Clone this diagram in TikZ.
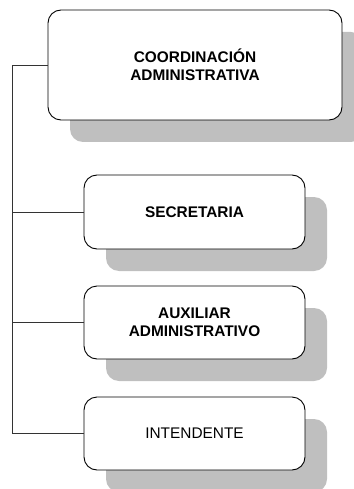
\documentclass[tikz,border=0pt]{standalone}
\usepackage{fontspec}
\setmainfont{Liberation Sans}
\usetikzlibrary{shadows}
\tikzset{
  puesto/.style={draw, fill=white, rounded corners=13pt, line width=0.9pt,
    align=center, font=\fontsize{15.4}{18}\selectfont,
    drop shadow={shadow xshift=22pt, shadow yshift=-22pt, fill=black!25, opacity=1}},
  enlace/.style={line width=0.8pt, black!80}
}
\begin{document}
\begin{tikzpicture}[x=1pt,y=-1pt]
\useasboundingbox (0,0) rectangle (353,489);
% Organigrama
\node[puesto, minimum width=294pt, minimum height=110pt, font=\fontsize{15.4}{18}\selectfont\bfseries] (coord) at (195,65) {COORDINACIÓN\\ADMINISTRATIVA};
\node[puesto, minimum width=221pt, minimum height=74pt, font=\fontsize{15.4}{18}\selectfont\bfseries] (secre) at (194.5,212) {SECRETARIA};
\node[puesto, minimum width=221pt, minimum height=73pt, font=\fontsize{15.4}{18}\selectfont\bfseries] (auxil) at (194.5,322.5) {AUXILIAR\\ADMINISTRATIVO};
\node[puesto, minimum width=221pt, minimum height=73pt] (inten) at (194.5,433.5) {INTENDENTE};

% Lineas de dependencia
\coordinate (eje) at (12,0);
\draw[enlace] (coord.west) -- (coord.west -| eje) |- (inten.west);
\draw[enlace] (secre.west -| eje) -- (secre.west);
\draw[enlace] (auxil.west -| eje) -- (auxil.west);
\end{tikzpicture}
\end{document}
